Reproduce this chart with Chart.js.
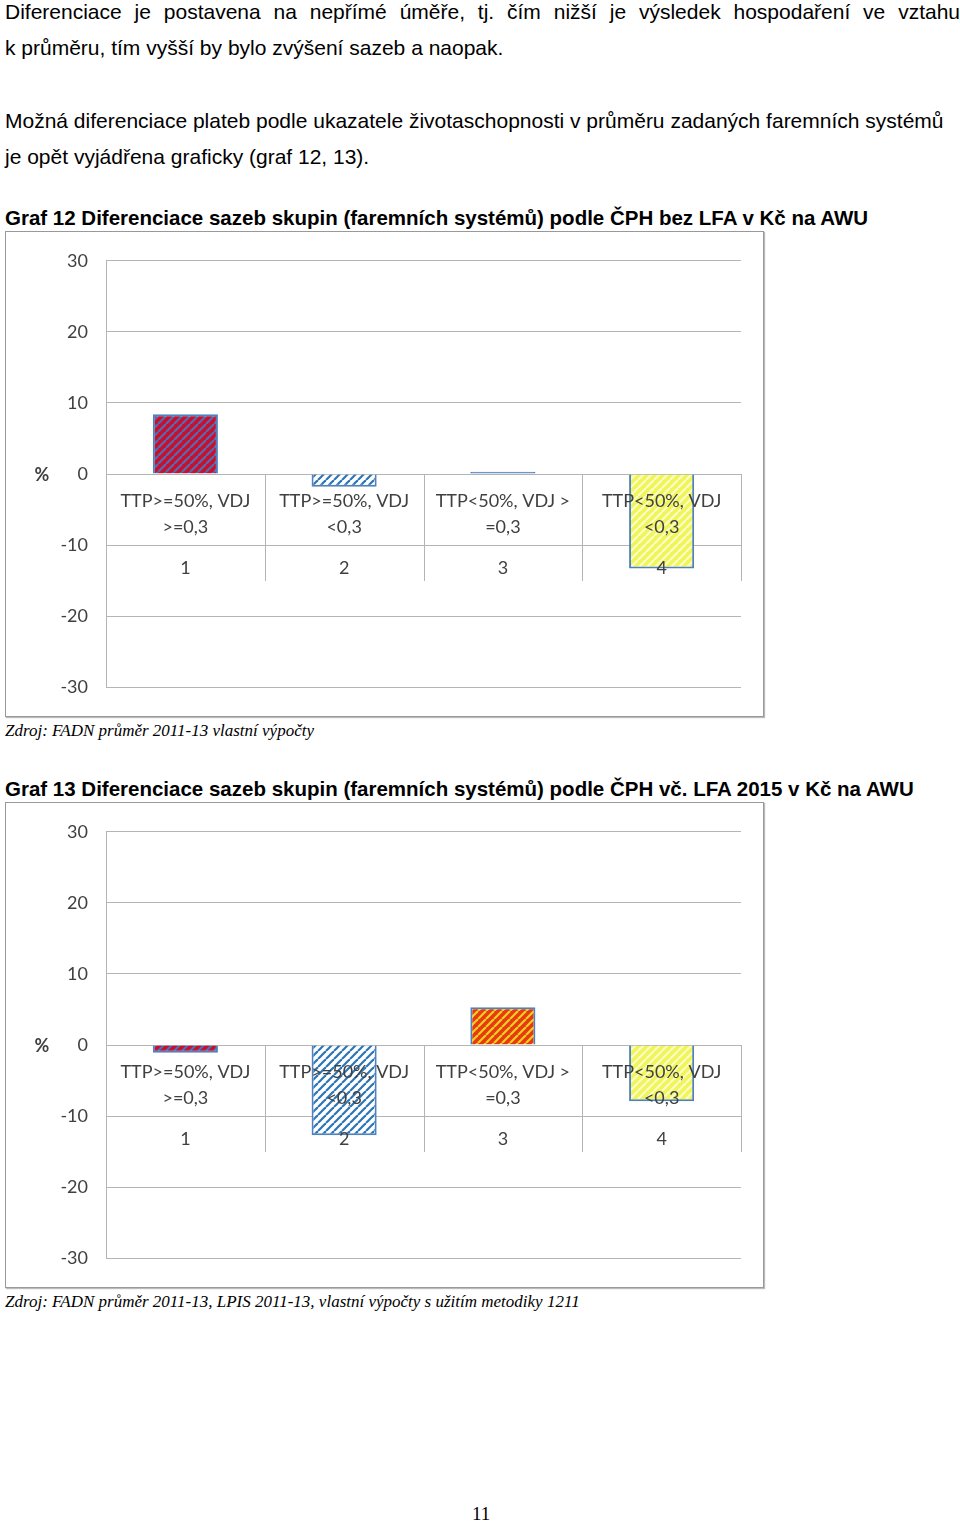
<!DOCTYPE html>
<html><head><meta charset="utf-8">
<script src="https://cdn.jsdelivr.net/npm/chart.js@4"></script>
<style>
body{margin:0;width:960px;height:1523px;position:relative;background:#fff;font-family:"Liberation Sans",Arial,sans-serif;color:#000}
.t{position:absolute;left:5px;font-size:21px;white-space:nowrap}
.b{font-weight:bold;font-size:20.5px}
.src{position:absolute;left:5px;font-family:"Liberation Serif",serif;font-style:italic;font-size:17px}
.box{position:absolute;left:5px;width:757px;height:484px;border:1px solid #999;box-shadow:1px 1px 1px #bbb}
</style></head><body>
<div class="t" style="top:0px;width:955px;text-align:justify;text-align-last:justify">Diferenciace je postavena na nepřímé úměře, tj. čím nižší je výsledek hospodaření ve vztahu</div>
<div class="t" style="top:36px">k průměru, tím vyšší by bylo zvýšení sazeb a naopak.</div>
<div class="t" style="top:109px">Možná diferenciace plateb podle ukazatele životaschopnosti v průměru zadaných faremních systémů</div>
<div class="t" style="top:145px">je opět vyjádřena graficky (graf 12, 13).</div>
<div class="t b" style="top:206px">Graf 12 Diferenciace sazeb skupin (faremních systémů) podle ČPH bez LFA v Kč na AWU</div>
<div class="box" style="top:231px"><canvas id="c1"></canvas></div>
<div class="src" style="top:721px">Zdroj: FADN průměr 2011-13 vlastní výpočty</div>
<div class="t b" style="top:777px">Graf 13 Diferenciace sazeb skupin (faremních systémů) podle ČPH vč. LFA 2015 v Kč na AWU</div>
<div class="box" style="top:802px"><canvas id="c2"></canvas></div>
<div class="src" style="top:1292px">Zdroj: FADN průměr 2011-13,  LPIS 2011-13, vlastní výpočty s užitím metodiky 1211</div>
<div style="position:absolute;left:472px;top:1503px;font-family:'Liberation Serif',serif;font-size:19px">11</div>
<script>
const categories = ["1","2","3","4"];
const catLabels = [["TTP>=50%, VDJ",">=0,3"],["TTP>=50%, VDJ","<0,3"],["TTP<50%, VDJ >","=0,3"],["TTP<50%, VDJ","<0,3"]];
const values12 = [8.4, -1.8, 0.3, -13.3];
const values13 = [-1.1, -12.7, 5.3, -7.9];
const yTicks = [30,20,10,0,-10,-20,-30];

function pat(bg, fg){
  const c=document.createElement('canvas');c.width=8;c.height=8;const x=c.getContext('2d');
  x.fillStyle=bg;x.fillRect(0,0,8,8);x.strokeStyle=fg;x.lineWidth=2.2;
  for(let k=-8;k<=16;k+=8){x.beginPath();x.moveTo(k,8);x.lineTo(k+8,0);x.stroke();}
  return x.createPattern(c,'repeat');
}
const fills=[pat('#c8102e','#4f6fb5'),pat('#ffffff','#2e75b6'),pat('#e63a10','#f5d020'),pat('#f0f55a','#fbfcc8')];

const linesPlugin={id:'sep',beforeDatasetsDraw(ch){
  const {ctx,chartArea:a,scales:{y}}=ch;const z=y.getPixelForValue(0);
  ctx.save();ctx.strokeStyle='#b4b4b4';ctx.lineWidth=1;
  const w=(a.right-a.left)/categories.length;
  for(let i=1;i<=categories.length;i++){const px=Math.round(a.left+i*w)+0.5;ctx.beginPath();ctx.moveTo(px,z);ctx.lineTo(px,z+107);ctx.stroke();}
  ctx.restore();}};
const labelsPlugin={id:'cl',afterDatasetsDraw(ch){
  const {ctx,chartArea:a,scales:{x,y}}=ch;const z=y.getPixelForValue(0);
  ctx.save();
  ctx.fillStyle='#404040';ctx.font='18px Lato, "Open Sans", sans-serif';ctx.textAlign='center';ctx.textBaseline='middle';
  categories.forEach((c,i)=>{const cx=x.getPixelForValue(i);
    ctx.fillText(catLabels[i][0],cx,z+27);ctx.fillText(catLabels[i][1],cx,z+53);ctx.fillText(c,cx,z+94);});
  ctx.font='bold 18px Lato, sans-serif';ctx.fillText('%',a.left-64,z+1);
  ctx.restore();}};

function make(id,vals){
  const cv=document.getElementById(id);cv.width=757;cv.height=484;
  new Chart(cv,{type:'bar',data:{labels:categories,datasets:[{data:vals,
    backgroundColor:vals.map((v,i)=>(id==='c1'&&i===2)?'#4f81bd':fills[i]),
    borderColor:'#4f81bd',borderWidth:2,barPercentage:0.41,categoryPercentage:1}]},
    options:{responsive:false,animation:false,events:[],layout:{padding:{top:16,bottom:16,right:22,left:0}},
      plugins:{legend:{display:false},tooltip:{enabled:false}},
      scales:{x:{display:false},
        y:{min:-30,max:30,afterFit(s){s.width=100;},afterBuildTicks(s){s.ticks=yTicks.map(v=>({value:v}));},
          grid:{color:'#b4b4b4',drawTicks:false},border:{color:'#b4b4b4'},
          ticks:{padding:18,color:'#404040',font:{size:18,family:'Lato, "Open Sans", sans-serif'}}}}},
    plugins:[linesPlugin,labelsPlugin]});
}
make('c1',values12);make('c2',values13);
</script></body></html>
